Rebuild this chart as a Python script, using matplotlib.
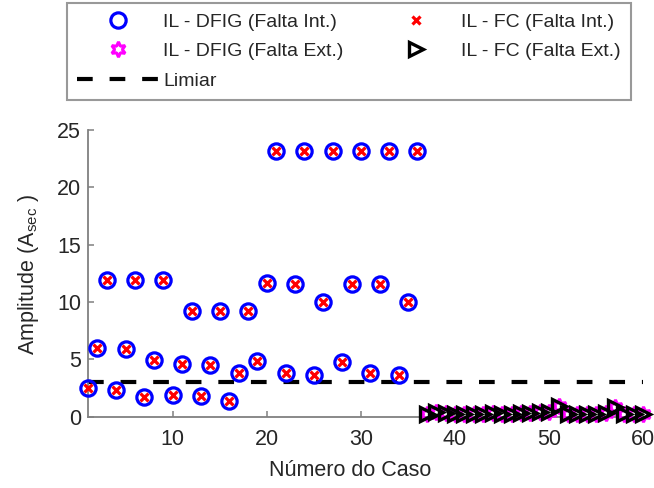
import numpy as np
import matplotlib
matplotlib.use('Agg')
import matplotlib.pyplot as plt

plt.rcParams['font.family'] = ['Liberation Sans', 'DejaVu Sans']
plt.rcParams['mathtext.fontset'] = 'custom'
plt.rcParams['mathtext.rm'] = 'Liberation Sans'
plt.rcParams['mathtext.it'] = 'Liberation Sans'

# internal fault cases 1..36
casos_int = list(range(1, 37))
il_dfig_int = [2.5, 6.0, 11.9, 2.3, 5.9, 11.9, 1.75, 4.95, 11.9, 1.9,
               4.6, 9.2, 1.8, 4.5, 9.2, 1.35, 3.85, 9.2, 4.85, 11.7,
               23.2, 3.8, 11.6, 23.2, 3.6, 10.0, 23.2, 4.8, 11.6, 23.15,
               3.8, 11.6, 23.15, 3.6, 10.0, 23.2]
il_fc_int = list(il_dfig_int)

# external fault cases 37..60
casos_ext = list(range(37, 61))
il_dfig_ext = [0.2, 0.45, 0.35, 0.2, 0.25, 0.2, 0.25, 0.3, 0.2, 0.25,
               0.3, 0.3, 0.4, 0.45, 0.95, 0.25, 0.22, 0.25, 0.25, 0.35,
               0.85, 0.25, 0.2, 0.2]
il_fc_ext = list(il_dfig_ext)

limiar = 3.0
casos_limiar = [1, 60]

txt = '#262626'
cinza = '#808080'

fig = plt.figure(figsize=(6.54, 4.88), dpi=100)
ax = fig.add_axes([0.1346, 0.146, 0.849, 0.5873])

h1, = ax.plot(casos_int, il_dfig_int, 'o', ls='none', mec='#0000ff', mfc='none',
              ms=11, mew=2.3, clip_on=False, zorder=3)
h2, = ax.plot(casos_ext, il_dfig_ext, marker=(6, 1, 0), ls='none', mec='#ff00ff',
              mfc='none', ms=11, mew=2.2, clip_on=False, zorder=3)
h3, = ax.plot(casos_limiar, [limiar, limiar], color='black', lw=3,
              dashes=(3.77, 4.05), zorder=2)
h4, = ax.plot(casos_int, il_fc_int, 'x', ls='none', color='#ff0000',
              ms=6, mew=2.3, clip_on=False, zorder=4)
h5, = ax.plot(casos_ext, il_fc_ext, '>', ls='none', mec='black', mfc='none',
              ms=10.5, mew=2.4, clip_on=False, zorder=4)

ax.set_xlim(1, 60)
ax.set_ylim(0, 25)
ax.set_xticks([10, 20, 30, 40, 50, 60])
ax.set_yticks([0, 5, 10, 15, 20, 25])
for s in ['top', 'right']:
    ax.spines[s].set_visible(False)
for s in ['left', 'bottom']:
    ax.spines[s].set_color(cinza)
    ax.spines[s].set_linewidth(1.3)
ax.tick_params(direction='in', length=4, width=1.1, color=cinza, labelsize=15.5,
               labelcolor=txt)
ax.tick_params(axis='x', pad=9)
ax.tick_params(axis='y', pad=5)
ax.set_xlabel('Número do Caso', fontsize=15.5, color=txt)
ax.set_ylabel('Amplitude (A$_{\\mathrm{sec}}$ )', fontsize=15.5, color=txt)
ax.xaxis.set_label_coords(0.472, -0.15)
ax.yaxis.set_label_coords(-0.085, 0.496)

leg = fig.legend([h1, h2, h3, h4, h5],
                 ['IL - DFIG (Falta Int.)', 'IL - DFIG (Falta Ext.)', 'Limiar',
                  'IL - FC (Falta Int.)', 'IL - FC (Falta Ext.)'],
                 ncol=2, loc='upper left',
                 bbox_to_anchor=(66.7 / 654, 1 - 3.3 / 488),
                 fontsize=14, frameon=True, fancybox=False, edgecolor=cinza,
                 handlelength=4.2, columnspacing=1.6, labelspacing=0.6,
                 borderpad=0.52, handletextpad=0.25, borderaxespad=0)
leg.get_frame().set_linewidth(1.5)
for t in leg.get_texts():
    t.set_color(txt)

fig.savefig('out.png', dpi=100)
